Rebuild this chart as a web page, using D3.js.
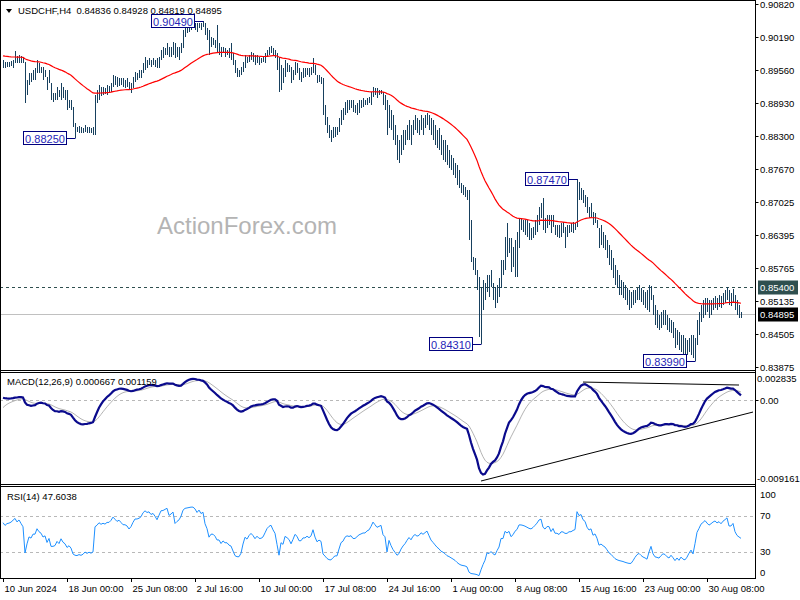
<!DOCTYPE html>
<html><head><meta charset="utf-8">
<script src="https://cdn.jsdelivr.net/npm/d3@7/dist/d3.min.js"></script>
<style>body{margin:0;background:#fff}svg{display:block;font-family:"Liberation Sans",Arial,sans-serif}</style>
</head><body><svg id="c" width="800" height="600"></svg>
<script>
// ---------------- DATA ----------------
const symbolTitle = "USDCHF,H4";
const lastOHLC = [0.84836, 0.84928, 0.84819, 0.84895];
const highs = [
.8975,.8971,.8971,.8971,.8973,.8975,.8992,.8983,.8985,.8983,
.8981,.8971,.8937,.8950,.8950,.8956,.8960,.8975,.8969,.8962,
.8962,.8956,.8943,.8956,.8931,.8912,.8912,.8923,.8918,.8931,
.8923,.8918,.8918,.8899,.8899,.8885,.8854,.8847,.8849,.8847,
.8845,.8851,.8847,.8847,.8845,.8847,.8908,.8918,.8927,.8923,
.8923,.8922,.8927,.8925,.8931,.8946,.8945,.8943,.8941,.8941,
.8941,.8937,.8941,.8933,.8931,.8943,.8952,.8950,.8956,.8956,
.8969,.8981,.8975,.8979,.8975,.8979,.8975,.8979,.8981,.8994,
.9000,.8998,.9008,.9000,.9000,.9010,.9008,.9000,.9000,.9008,
.9033,.9042,.9042,.9046,.9046,.9045,.9046,.9046,.9046,.9046,
.9049,.9046,.9036,.9033,.9019,.9017,.9013,.9042,.9008,.9000,
.9000,.8998,.8994,.8998,.9008,.8989,.8975,.8960,.8956,.8962,
.8971,.8985,.8981,.8985,.8990,.8989,.8985,.8985,.8981,.8979,
.8981,.8989,.8994,.9000,.9002,.8998,.8994,.8989,.8981,.8966,
.8960,.8975,.8969,.8966,.8962,.8956,.8971,.8969,.8960,.8952,
.8960,.8960,.8960,.8960,.8962,.8979,.8966,.8946,.8946,.8943,
.8941,.8889,.8866,.8851,.8841,.8847,.8847,.8847,.8864,.8879,
.8883,.8895,.8899,.8899,.8899,.8899,.8889,.8893,.8899,.8899,
.8902,.8899,.8902,.8904,.8914,.8923,.8922,.8922,.8918,.8918,
.8914,.8908,.8899,.8889,.8879,.8870,.8851,.8832,.8822,.8832,
.8841,.8841,.8851,.8860,.8851,.8860,.8870,.8864,.8860,.8870,
.8864,.8870,.8874,.8870,.8864,.8860,.8851,.8841,.8845,.8832,
.8822,.8822,.8812,.8803,.8793,.8788,.8778,.8774,.8765,.8740,
.8736,.8732,.8726,.8726,.8669,.8598,.8596,.8573,.8560,.8541,
.8554,.8548,.8564,.8564,.8573,.8548,.8541,.8545,.8558,.8592,
.8592,.8636,.8663,.8634,.8634,.8617,.8631,.8646,.8673,.8673,
.8669,.8669,.8669,.8663,.8654,.8655,.8669,.8679,.8694,.8701,
.8711,.8673,.8679,.8679,.8679,.8679,.8659,.8659,.8659,.8663,
.8665,.8655,.8659,.8659,.8663,.8665,.8663,.8747,.8742,.8730,
.8726,.8717,.8713,.8694,.8701,.8684,.8682,.8669,.8654,.8659,
.8646,.8640,.8631,.8621,.8612,.8596,.8583,.8573,.8564,.8554,
.8550,.8545,.8539,.8535,.8531,.8535,.8535,.8539,.8545,.8539,
.8535,.8531,.8535,.8545,.8543,.8525,.8506,.8497,.8487,.8493,
.8497,.8497,.8487,.8481,.8478,.8474,.8462,.8458,.8455,.8449,
.8449,.8443,.8439,.8443,.8449,.8449,.8443,.8478,.8493,.8506,
.8516,.8520,.8520,.8516,.8516,.8520,.8523,.8520,.8525,.8523,
.8529,.8535,.8541,.8535,.8529,.8537,.8525,.8516,.8506,.84928];
const lows = [
.8960,.8960,.8962,.8962,.8964,.8960,.8969,.8969,.8969,.8969,
.8969,.8893,.8908,.8927,.8933,.8937,.8937,.8950,.8950,.8950,
.8937,.8943,.8918,.8931,.8899,.8895,.8899,.8899,.8904,.8899,
.8902,.8899,.8879,.8883,.8879,.8847,.8825,.8837,.8835,.8835,
.8835,.8837,.8835,.8835,.8835,.8832,.8832,.8893,.8899,.8906,
.8908,.8910,.8908,.8912,.8914,.8923,.8927,.8923,.8925,.8927,
.8923,.8922,.8923,.8918,.8912,.8922,.8933,.8937,.8941,.8941,
.8950,.8956,.8960,.8966,.8962,.8966,.8962,.8960,.8960,.8975,
.8979,.8985,.8985,.8981,.8981,.8985,.8979,.8981,.8975,.8989,
.8998,.9019,.9027,.9029,.9033,.9036,.9033,.9029,.9036,.9033,
.9038,.9023,.9013,.8985,.9000,.9004,.8998,.8990,.8985,.8981,
.8989,.8981,.8985,.8979,.8975,.8966,.8950,.8943,.8943,.8946,
.8952,.8960,.8969,.8971,.8975,.8971,.8966,.8969,.8966,.8969,
.8971,.8969,.8981,.8985,.8989,.8985,.8979,.8956,.8914,.8918,
.8931,.8943,.8952,.8952,.8931,.8937,.8946,.8950,.8937,.8933,
.8941,.8943,.8946,.8943,.8946,.8950,.8946,.8931,.8933,.8929,
.8870,.8851,.8835,.8826,.8818,.8826,.8828,.8832,.8837,.8851,
.8860,.8870,.8874,.8879,.8883,.8876,.8874,.8870,.8874,.8883,
.8885,.8889,.8889,.8893,.8889,.8904,.8908,.8902,.8908,.8910,
.8889,.8879,.8832,.8845,.8841,.8822,.8812,.8784,.8778,.8793,
.8803,.8812,.8822,.8822,.8812,.8832,.8841,.8835,.8832,.8841,
.8832,.8845,.8851,.8841,.8832,.8822,.8812,.8807,.8803,.8793,
.8784,.8780,.8774,.8768,.8765,.8755,.8749,.8736,.8730,.8721,
.8717,.8713,.8707,.8631,.8589,.8573,.8564,.8535,.8445,.8431,
.8497,.8516,.8531,.8522,.8541,.8516,.8501,.8510,.8522,.8539,
.8564,.8573,.8598,.8606,.8569,.8579,.8560,.8560,.8615,.8650,
.8646,.8640,.8636,.8631,.8631,.8634,.8640,.8646,.8659,.8673,
.8650,.8644,.8654,.8659,.8644,.8655,.8640,.8636,.8634,.8636,
.8644,.8615,.8636,.8644,.8646,.8644,.8650,.8655,.8707,.8707,
.8701,.8694,.8682,.8673,.8675,.8659,.8663,.8654,.8615,.8621,
.8615,.8612,.8596,.8583,.8573,.8558,.8545,.8539,.8525,.8525,
.8520,.8516,.8506,.8497,.8501,.8506,.8510,.8516,.8516,.8512,
.8506,.8501,.8497,.8493,.8516,.8487,.8468,.8462,.8458,.8462,
.8468,.8468,.8458,.8455,.8453,.8443,.8424,.8430,.8420,.8416,
.8411,.8409,.8411,.8416,.8411,.8405,.8399,.8430,.8449,.8474,
.8481,.8487,.8493,.8481,.8487,.8497,.8501,.8497,.8502,.8501,
.8506,.8510,.8516,.8506,.8504,.8510,.8497,.8487,.8481,.84819];
const closes = [
.8968,.8964,.8968,.8969,.8971,.8975,.8979,.8975,.8979,.8975,
.8971,.8908,.8927,.8945,.8941,.8952,.8952,.8968,.8960,.8956,
.8945,.8948,.8927,.8937,.8906,.8906,.8908,.8918,.8910,.8922,
.8910,.8904,.8889,.8893,.8883,.8853,.8845,.8843,.8845,.8841,
.8843,.8847,.8841,.8843,.8839,.8841,.8902,.8908,.8918,.8914,
.8918,.8916,.8922,.8922,.8929,.8941,.8937,.8933,.8937,.8933,
.8929,.8929,.8927,.8922,.8927,.8937,.8946,.8946,.8948,.8952,
.8964,.8971,.8969,.8971,.8968,.8971,.8968,.8964,.8975,.8989,
.8990,.8994,.8998,.8990,.8994,.9000,.8985,.8990,.8994,.9004,
.9027,.9036,.9038,.9040,.9042,.9042,.9040,.9036,.9044,.9040,
.9044,.9029,.9021,.9004,.9010,.9010,.9006,.8998,.8998,.8990,
.8994,.8990,.8990,.8985,.8983,.8971,.8956,.8952,.8952,.8956,
.8968,.8979,.8975,.8981,.8985,.8981,.8975,.8979,.8975,.8975,
.8977,.8983,.8990,.8994,.8996,.8990,.8985,.8964,.8927,.8952,
.8946,.8966,.8962,.8956,.8941,.8952,.8966,.8960,.8945,.8945,
.8952,.8952,.8956,.8952,.8956,.8971,.8952,.8937,.8941,.8937,
.8879,.8864,.8845,.8834,.8832,.8837,.8841,.8841,.8856,.8872,
.8876,.8887,.8891,.8889,.8891,.8883,.8883,.8887,.8891,.8893,
.8895,.8895,.8899,.8901,.8908,.8918,.8914,.8910,.8912,.8914,
.8899,.8895,.8851,.8876,.8856,.8837,.8822,.8803,.8807,.8818,
.8826,.8832,.8841,.8849,.8841,.8851,.8856,.8851,.8853,.8860,
.8856,.8860,.8864,.8853,.8841,.8834,.8826,.8818,.8812,.8803,
.8799,.8793,.8784,.8780,.8774,.8768,.8761,.8749,.8738,.8730,
.8726,.8723,.8715,.8636,.8592,.8580,.8566,.8540,.8470,.8488,
.8505,.8520,.8548,.8540,.8548,.8527,.8515,.8531,.8545,.8583,
.8583,.8621,.8612,.8621,.8592,.8602,.8621,.8631,.8659,.8659,
.8657,.8654,.8650,.8646,.8644,.8650,.8659,.8669,.8684,.8688,
.8665,.8659,.8669,.8669,.8654,.8665,.8650,.8650,.8646,.8654,
.8654,.8650,.8650,.8654,.8654,.8657,.8659,.8726,.8717,.8723,
.8711,.8707,.8692,.8684,.8688,.8669,.8673,.8659,.8631,.8634,
.8627,.8621,.8608,.8592,.8583,.8569,.8554,.8545,.8539,.8535,
.8531,.8525,.8520,.8516,.8516,.8520,.8525,.8529,.8531,.8523,
.8516,.8512,.8506,.8516,.8525,.8497,.8481,.8478,.8474,.8478,
.8481,.8478,.8468,.8462,.8466,.8455,.8439,.8443,.8430,.8435,
.8424,.8420,.8424,.8430,.8435,.8420,.8439,.8468,.8481,.8497,
.8504,.8512,.8506,.8501,.8506,.8512,.8516,.8512,.8516,.8512,
.8520,.8525,.8531,.8516,.8516,.8523,.8506,.8497,.8493,.84895];

const tickIdx    = [0, 32, 64, 96, 128, 160, 192, 224, 256, 288, 320, 352];
const tickLabels = ["10 Jun 2024","18 Jun 00:00","25 Jun 08:00","2 Jul 16:00","10 Jul 00:00",
                    "17 Jul 08:00","24 Jul 16:00","1 Aug 00:00","8 Aug 08:00","15 Aug 16:00",
                    "23 Aug 00:00","30 Aug 08:00"];
const priceTicks = [0.90820,0.90190,0.89560,0.88930,0.88300,0.87670,0.87025,0.86395,0.85765,0.85135,0.84505,0.83875];
const levelPrice = 0.85400;
const extremeIdx = [100, 36, 239, 287, 346];
const extremeVal = [0.90490, 0.88250, 0.84310, 0.87470, 0.83990];
const macdLabel = "MACD(12,26,9) 0.000667 0.001159";
const macdRange = [-0.009161, 0.002835];
const macdTrendIdx = [[239, 375], [290, 368]];
const macdTrendVal = [[-0.00905, -0.00139], [0.00194, 0.00161]];
const rsiLabel = "RSI(14) 47.6038";
const rsiLevels = [70, 30];
const rsiAxis = [100, 70, 30, 0];
// indicator states at the first visible bar
const seedMA = 0.8983, seedMACD = 0.0002, seedSignal = -0.0009, seedRSI = 62;
const watermark = "ActionForex.com";

// ---------------- INDICATORS ----------------
const ma = [];
closes.forEach((c, i) => ma.push(i === 0 ? seedMA : ma[i-1] + (2/56) * (c - ma[i-1])));
let e12 = closes[0] + seedMACD, e26 = closes[0];
const macd = [], signal = [];
closes.forEach((c, i) => {
  if (i > 0) { e12 += (2/13) * (c - e12); e26 += (2/27) * (c - e26); }
  const m = e12 - e26;
  macd.push(m);
  signal.push(i === 0 ? seedSignal : signal[i-1] + 0.2 * (m - signal[i-1]));
});
let ag = 0.0006 * seedRSI / 100, al = 0.0006 * (1 - seedRSI / 100);
const rsi = [seedRSI];
for (let i = 1; i < closes.length; i++) {
  const d = closes[i] - closes[i-1];
  ag = (ag * 13 + Math.max(d, 0)) / 14;
  al = (al * 13 + Math.max(-d, 0)) / 14;
  rsi.push(100 - 100 / (1 + ag / al));
}

// ---------------- DRAWING ----------------
const svg = d3.select("#c");
const AX = 755.5;            // right axis x
const n = closes.length;
const x  = d3.scaleLinear().domain([0, n - 1]).range([3, 741]);
const y  = d3.scaleLinear().domain([0.83875, 0.90190]).range([367, 37]);
const ym = d3.scaleLinear().domain(macdRange).range([482, 374]);
const yr = d3.scaleLinear().domain([0, 100]).range([578.5, 488.5]);

const defs = svg.append("defs");
function clip(id, y0, y1) {
  defs.append("clipPath").attr("id", id).append("rect")
    .attr("x", 1).attr("y", y0).attr("width", AX - 1.5).attr("height", y1 - y0);
  return "url(#" + id + ")";
}
const cMain = clip("cm", 1, 370), cMacd = clip("cd", 373, 484), cRsi = clip("cr", 487, 578);

// watermark
svg.append("text").attr("x", 247).attr("y", 234).attr("text-anchor", "middle")
  .attr("font-size", 24).attr("fill", "#b4b4b4").text(watermark);

const gMain = svg.append("g").attr("clip-path", cMain);
// level lines
gMain.append("line").attr("x1", 0).attr("x2", AX).attr("y1", Math.round(y(levelPrice)) + 0.5).attr("y2", Math.round(y(levelPrice)) + 0.5)
  .attr("stroke", "#2f4f4f").attr("stroke-dasharray", "3,3");
gMain.append("line").attr("x1", 0).attr("x2", AX).attr("y1", Math.round(y(lastOHLC[3])) + 0.5).attr("y2", Math.round(y(lastOHLC[3])) + 0.5)
  .attr("stroke", "#c0c0c0");
// bars
gMain.selectAll("line.bar").data(closes).join("line").attr("class", "bar")
  .attr("x1", (d, i) => Math.round(x(i)) + 0.5).attr("x2", (d, i) => Math.round(x(i)) + 0.5)
  .attr("y1", (d, i) => y(highs[i])).attr("y2", (d, i) => Math.max(y(lows[i]), y(highs[i]) + 1))
  .attr("stroke", "#17405e").attr("stroke-width", 1).attr("shape-rendering", "crispEdges");
// moving average
gMain.append("path").datum(ma).attr("fill", "none").attr("stroke", "#ff0000").attr("stroke-width", 1.2)
  .attr("d", d3.line().x((d, i) => x(i)).y(d => y(d)));
// extreme labels
extremeIdx.forEach((bi, k) => {
  const px = Math.round(x(bi)), py = Math.round(y(extremeVal[k])) + 0.5;
  const bx = px - 9 - 43;
  gMain.append("line").attr("x1", px - 9).attr("x2", px + 0.5).attr("y1", py).attr("y2", py).attr("stroke", "#00007f");
  gMain.append("rect").attr("x", bx + 0.5).attr("y", py - 7).attr("width", 43).attr("height", 13)
    .attr("fill", "#fff").attr("stroke", "#00007f");
  gMain.append("text").attr("x", bx + 22).attr("y", py + 4).attr("text-anchor", "middle")
    .attr("font-size", 11).attr("fill", "#2626b8").text(extremeVal[k].toFixed(5));
});

// header
svg.append("path").attr("d", "M6,9 L12,9 L9,13 Z").attr("fill", "#000");
svg.append("text").attr("x", 18).attr("y", 14).attr("font-size", 9.5).attr("fill", "#000")
  .attr("xml:space", "preserve")
  .text(symbolTitle + "  " + lastOHLC.map(v => v.toFixed(5)).join(" "));

// MACD panel
const gM = svg.append("g").attr("clip-path", cMacd);
gM.append("line").attr("x1", 0).attr("x2", AX).attr("y1", Math.round(ym(0)) + 0.5).attr("y2", Math.round(ym(0)) + 0.5)
  .attr("stroke", "#b8b8b8").attr("stroke-dasharray", "3,3");
gM.append("path").datum(signal).attr("fill", "none").attr("stroke", "#b4b4b4").attr("stroke-width", 1)
  .attr("d", d3.line().x((d, i) => x(i)).y(d => ym(d)));
gM.append("path").datum(macd).attr("fill", "none").attr("stroke", "#0a0a8c").attr("stroke-width", 2.2)
  .attr("d", d3.line().x((d, i) => x(i)).y(d => ym(d)));
macdTrendIdx.forEach((ix, k) => {
  gM.append("line").attr("x1", x(ix[0])).attr("x2", x(ix[1]))
    .attr("y1", ym(macdTrendVal[k][0])).attr("y2", ym(macdTrendVal[k][1])).attr("stroke", "#000").attr("stroke-width", 1);
});
svg.append("text").attr("x", 7).attr("y", 385).attr("font-size", 9.5).text(macdLabel);

// RSI panel
const gR = svg.append("g").attr("clip-path", cRsi);
rsiLevels.forEach(v => gR.append("line").attr("x1", 0).attr("x2", AX)
  .attr("y1", Math.round(yr(v)) + 0.5).attr("y2", Math.round(yr(v)) + 0.5)
  .attr("stroke", "#b8b8b8").attr("stroke-dasharray", "3,3"));
gR.append("path").datum(rsi).attr("fill", "none").attr("stroke", "#1e90ff").attr("stroke-width", 1)
  .attr("d", d3.line().x((d, i) => x(i)).y(d => yr(d)));
svg.append("text").attr("x", 7).attr("y", 500).attr("font-size", 9.5).text(rsiLabel);

// frames
const frame = svg.append("g").attr("stroke", "#000").attr("shape-rendering", "crispEdges");
[0.5, 370.5, 372.5, 484.5, 486.5, 578.5].forEach(v =>
  frame.append("line").attr("x1", 0).attr("x2", AX).attr("y1", v).attr("y2", v));
frame.append("line").attr("x1", 0.5).attr("x2", 0.5).attr("y1", 0).attr("y2", 578.5);
frame.append("line").attr("x1", AX).attr("x2", AX).attr("y1", 0).attr("y2", 578.5);

// right price axis
const ra = svg.append("g").attr("font-size", 9.5).attr("fill", "#000");
priceTicks.forEach(v => {
  const py = Math.round(y(v)) + 0.5;
  ra.append("line").attr("x1", AX).attr("x2", AX + 3).attr("y1", py).attr("y2", py).attr("stroke", "#000");
  ra.append("text").attr("x", 760).attr("y", py + 3.5).text(v.toFixed(5));
});
function priceBox(v, bg) {
  const py = Math.round(y(v)) + 0.5;
  ra.append("rect").attr("x", 758).attr("y", py - 7).attr("width", 40).attr("height", 14).attr("fill", bg);
  ra.append("text").attr("x", 760).attr("y", py + 3.5).attr("fill", "#fff").text(v.toFixed(5));
}
priceBox(levelPrice, "#2f4f4f");
priceBox(lastOHLC[3], "#000");

// MACD axis labels
ra.append("text").attr("x", 757).attr("y", 382).text(macdRange[1].toFixed(6));
ra.append("line").attr("x1", AX).attr("x2", AX + 3).attr("y1", Math.round(ym(0)) + 0.5).attr("y2", Math.round(ym(0)) + 0.5).attr("stroke", "#000");
ra.append("text").attr("x", 760).attr("y", ym(0) + 4).text((0).toFixed(2));
ra.append("text").attr("x", 757).attr("y", 482).text(macdRange[0].toFixed(6));
// RSI axis labels
rsiAxis.forEach(v => {
  let py = yr(v);
  if (v === 100) py += 6; if (v === 0) py -= 6;
  ra.append("text").attr("x", 760).attr("y", py + 3.5).text(v);
});

// time axis
const ta = svg.append("g").attr("font-size", 9.5);
tickIdx.forEach((bi, k) => {
  const px = Math.round(x(bi)) + 0.5;
  ta.append("line").attr("x1", px).attr("x2", px).attr("y1", 578.5).attr("y2", 582).attr("stroke", "#000");
  ta.append("text").attr("x", px + 1).attr("y", 592).text(tickLabels[k]);
});
</script></body></html>
